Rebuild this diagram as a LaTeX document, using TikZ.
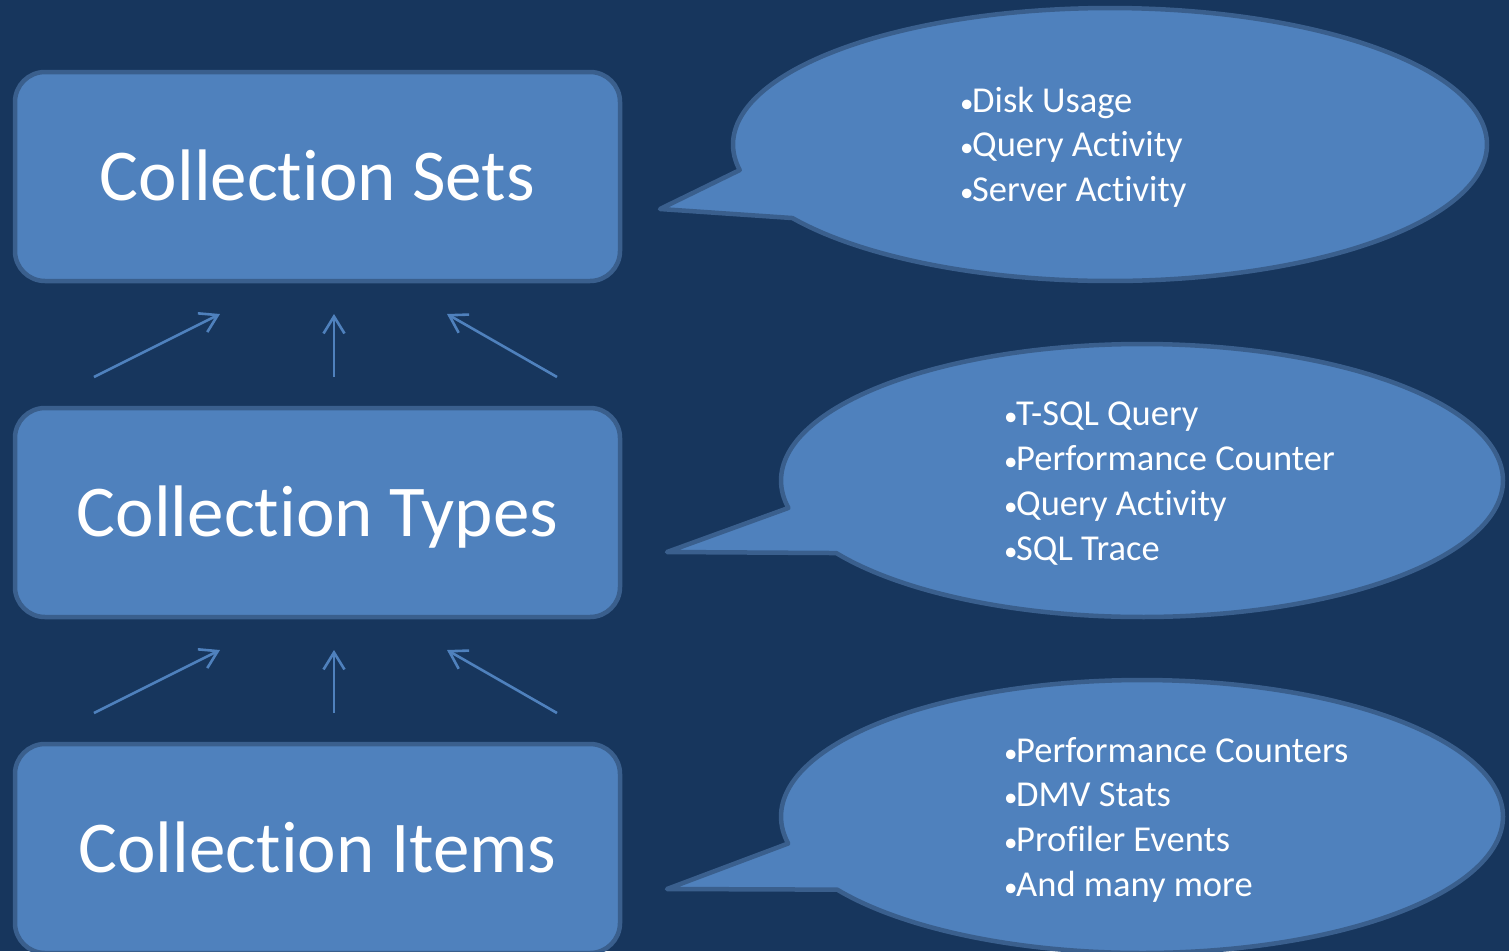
\documentclass[tikz,border=0pt]{standalone}
\usepackage{fontspec}
\setmainfont{Carlito}[RawFeature={-liga;-clig;-dlig;-rlig;-calt}]
\usetikzlibrary{arrows.meta}
\definecolor{bg}{HTML}{17365D}
\definecolor{fillb}{HTML}{4F81BD}
\definecolor{edgeb}{HTML}{3A5F8D}
\newcommand\mybul{\makebox[12pt][l]{\fontsize{27}{45}\selectfont •}}
\newcommand\nl{\kern0pt }
\tikzset{
  box/.style={draw=edgeb, fill=fillb, line width=4.5pt, rounded corners=30pt,
    minimum width=605pt, minimum height=209pt, inner sep=0pt,
    text=white, font=\fontsize{73}{88}\selectfont, text height=47pt, text depth=0pt},
  bubble/.style={draw=edgeb, fill=fillb, line width=4.5pt, line join=round},
  uparrow/.style={draw=fillb, line width=2.6pt, -{Straight Barb[length=17pt,width=21pt]}},
  items/.style={text=white, font=\fontsize{36.5}{45}\selectfont, inner sep=0pt, anchor=base west}
}
\begin{document}
\begin{tikzpicture}[x=1pt,y=-1pt]
\useasboundingbox (0,0) rectangle (1509,951);
\fill[bg] (0,0) rectangle (1509,951);
\clip (0,0) rectangle (1509,951);

% boxes
\node[box] (sets)  at (317.5,176.5) {Collect\nl ion Sets};
\node[box] (types) at (317.5,512.5) {Collect\nl ion Types};
\node[box] (items) at (317.5,848.5) {Collect\nl ion Items};

% arrows
\foreach \k/\dy in {1/0,2/336}{
  \coordinate (l\k s) at (94,{377+\dy});  \coordinate (l\k e) at (220,{314+\dy});
  \coordinate (m\k s) at (334,{377+\dy}); \coordinate (m\k e) at (334,{314+\dy});
  \coordinate (r\k s) at (557,{377+\dy}); \coordinate (r\k e) at (447,{314+\dy});
  \draw[uparrow] (l\k s) -- (l\k e);
  \draw[uparrow] (m\k s) -- (m\k e);
  \draw[uparrow] (r\k s) -- (r\k e);
}

% callouts
\coordinate (tip1) at (660,209);
\coordinate (tip2) at (667,552);
\coordinate (tip3) at (667,889);
\draw[bubble] (tip1) -- plot[domain=169.2:507.4, samples=240] ({1110+377*cos(\x)},{144.5+136.5*sin(\x)}) -- cycle;
\draw[bubble] (tip2) -- plot[domain=168.4:507.9, samples=240] ({1142+361*cos(\x)},{480.5+136.5*sin(\x)}) -- cycle;
\draw[bubble] (tip3) -- plot[domain=168.6:507.6, samples=240] ({1142+361*cos(\x)},{816.5+136.5*sin(\x)}) -- cycle;

% texts
\foreach \t [count=\i] in {Disk Usage, Query Act\nl ivity, Server Act\nl ivity}
  \node[items] (a\i) at (960,{112+44.5*(\i-1)}) {\mybul\t};
\foreach \t [count=\i] in {T-SQL Query, Performance Counter, Query Act\nl ivity, SQL Trace}
  \node[items] (b\i) at (1004,{425+45*(\i-1)}) {\mybul\t};
\foreach \t [count=\i] in {Performance Counters, DMV Stats, Profiler Events, And many more}
  \node[items] (c\i) at (1004,{762+44.7*(\i-1)}) {\mybul\t};
\end{tikzpicture}
\end{document}
